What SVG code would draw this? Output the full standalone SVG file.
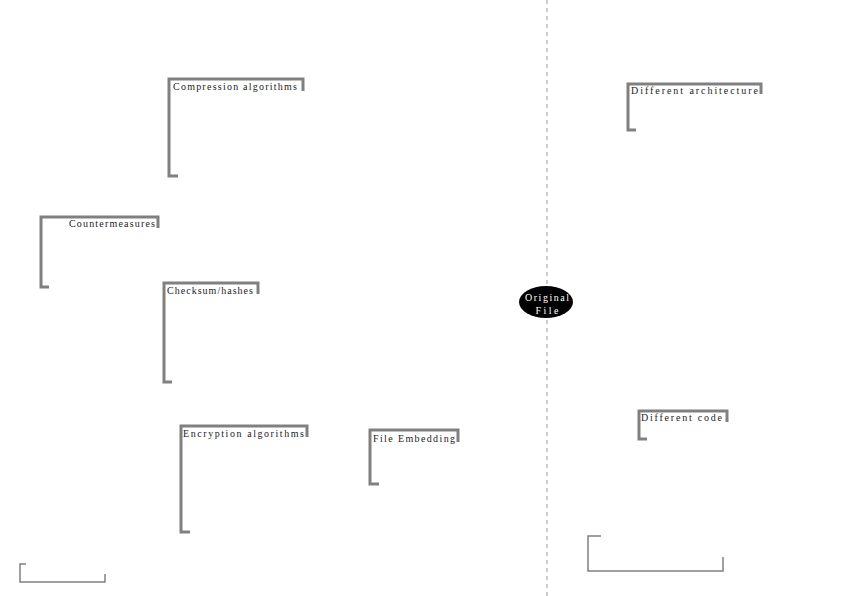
<svg xmlns="http://www.w3.org/2000/svg" width="842" height="596" viewBox="0 0 842 596">
<style>
.br{fill:none;stroke:#808080;stroke-width:3;stroke-linejoin:miter}
.br2{fill:none;stroke:#808080;stroke-width:1.5}
.lbl{font-family:"Liberation Serif",serif;font-size:10px;fill:#222}
.ow{font-family:"Liberation Serif",serif;font-size:10px;fill:#fff;text-anchor:middle}
.dash{stroke:#999;stroke-width:1;stroke-dasharray:4 4;fill:none}
</style>
<rect width="842" height="596" fill="#fff"/>
<g id="connectors">
<line class="dash" x1="547" y1="0" x2="547" y2="596"/>
</g>
<g id="compression">
<path class="br" d="M178,176 H169 V79 H303 V91"/>
<text class="lbl" x="173" y="90" textLength="124" lengthAdjust="spacing">Compression algorithms</text>
</g>
<g id="countermeasures">
<path class="br" d="M49,287 H41 V217 H158 V228"/>
<text class="lbl" x="69" y="227" textLength="86" lengthAdjust="spacing">Countermeasures</text>
</g>
<g id="checksum">
<path class="br" d="M172,382 H164 V283 H258 V294"/>
<text class="lbl" x="167" y="294" textLength="86" lengthAdjust="spacing">Checksum/hashes</text>
</g>
<g id="encryption">
<path class="br" d="M190,532 H181 V426 H307 V437"/>
<text class="lbl" x="183" y="437" textLength="121" lengthAdjust="spacing">Encryption algorithms</text>
</g>
<g id="embedding">
<path class="br" d="M379,484 H370 V430 H458 V442"/>
<text class="lbl" x="373" y="442" textLength="82" lengthAdjust="spacing">File Embedding</text>
</g>
<g id="original">
<ellipse cx="546" cy="302" rx="27" ry="16" fill="#000"/>
<text class="ow" x="547" y="301" textLength="44" lengthAdjust="spacing">Original</text>
<text class="ow" x="547" y="314" textLength="23" lengthAdjust="spacing">File</text>
</g>
<g id="architecture">
<path class="br" d="M636,130 H628 V84 H761 V94"/>
<text class="lbl" x="631" y="94" textLength="127" lengthAdjust="spacing">Different architecture</text>
</g>
<g id="code">
<path class="br" d="M647,439 H639 V411 H727 V422"/>
<text class="lbl" x="641" y="421" textLength="81" lengthAdjust="spacing">Different code</text>
</g>
<g id="box-right">
<path class="br2" d="M601,536 H588 V571 H723 V557"/>
</g>
<g id="box-left">
<path class="br2" d="M26,564 H20 V582 H105 V574"/>
</g>
</svg>
